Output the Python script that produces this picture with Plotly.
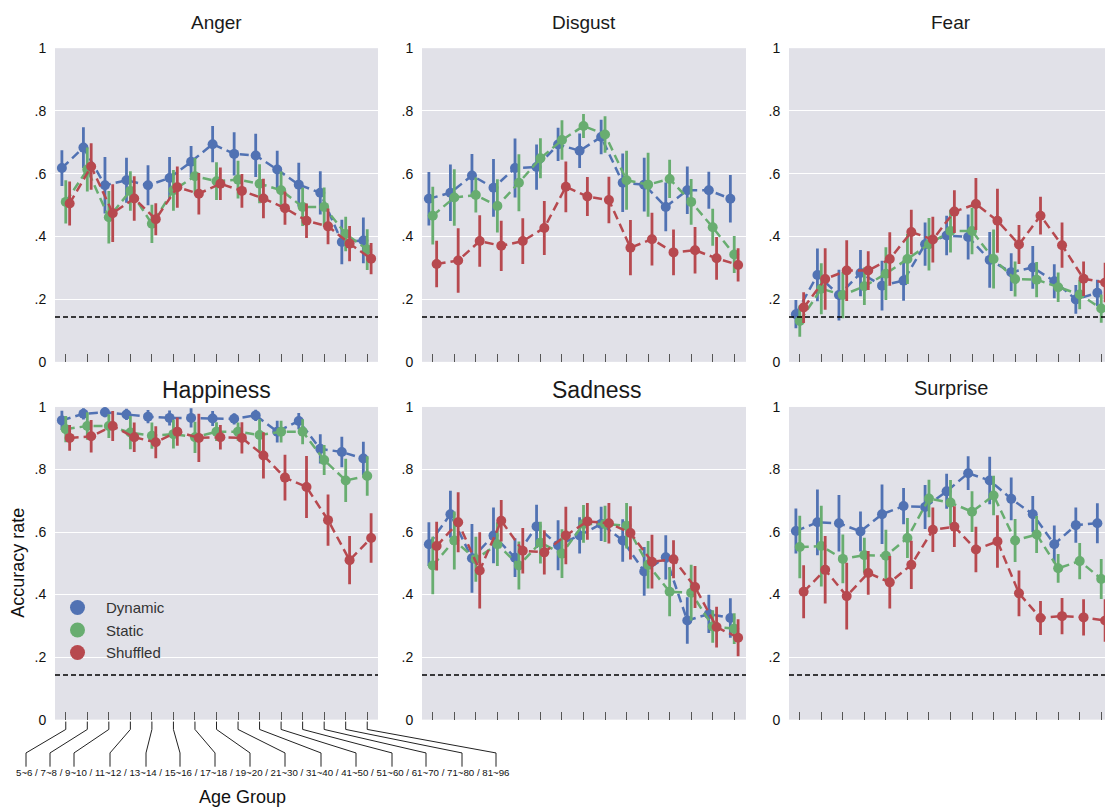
import plotly.graph_objects as go

# ---------------- data ----------------
age_groups = ["5~6", "7~8", "9~10", "11~12", "13~14", "15~16", "17~18", "19~20",
              "21~30", "31~40", "41~50", "51~60", "61~70", "71~80", "81~96"]
conditions = ["Dynamic", "Static", "Shuffled"]
emotions = ["Anger", "Disgust", "Fear", "Happiness", "Sadness", "Surprise"]
chance_level = 1 / 7

anger_dynamic = [0.618, 0.683, 0.563, 0.579, 0.563, 0.586, 0.638, 0.694, 0.663, 0.658, 0.613, 0.565, 0.539, 0.382, 0.387]
anger_dynamic_err = [0.057, 0.065, 0.09, 0.072, 0.064, 0.067, 0.05, 0.058, 0.069, 0.069, 0.06, 0.07, 0.069, 0.071, 0.073]
anger_static = [0.51, 0.613, 0.461, 0.545, 0.44, 0.547, 0.592, 0.576, 0.581, 0.568, 0.547, 0.494, 0.494, 0.408, 0.358]
anger_static_err = [0.069, 0.07, 0.084, 0.063, 0.061, 0.065, 0.058, 0.06, 0.06, 0.062, 0.06, 0.061, 0.062, 0.055, 0.065]
anger_shuffled = [0.505, 0.623, 0.474, 0.521, 0.455, 0.557, 0.536, 0.568, 0.545, 0.521, 0.49, 0.45, 0.432, 0.377, 0.329]
anger_shuffled_err = [0.07, 0.074, 0.092, 0.071, 0.051, 0.066, 0.066, 0.052, 0.054, 0.063, 0.053, 0.055, 0.057, 0.056, 0.05]

disgust_dynamic = [0.52, 0.539, 0.594, 0.555, 0.618, 0.621, 0.693, 0.673, 0.717, 0.571, 0.565, 0.494, 0.547, 0.547, 0.52]
disgust_dynamic_err = [0.085, 0.09, 0.069, 0.092, 0.094, 0.072, 0.053, 0.055, 0.055, 0.093, 0.086, 0.078, 0.076, 0.059, 0.076]
disgust_static = [0.466, 0.524, 0.532, 0.497, 0.571, 0.649, 0.707, 0.752, 0.725, 0.579, 0.565, 0.583, 0.51, 0.429, 0.342]
disgust_static_err = [0.092, 0.09, 0.056, 0.085, 0.091, 0.064, 0.063, 0.038, 0.058, 0.094, 0.102, 0.061, 0.073, 0.059, 0.059]
disgust_shuffled = [0.312, 0.323, 0.385, 0.37, 0.385, 0.427, 0.558, 0.527, 0.516, 0.364, 0.391, 0.349, 0.356, 0.33, 0.309]
disgust_shuffled_err = [0.074, 0.103, 0.082, 0.08, 0.073, 0.086, 0.081, 0.062, 0.074, 0.088, 0.084, 0.073, 0.074, 0.068, 0.053]

fear_dynamic = [0.152, 0.277, 0.213, 0.283, 0.243, 0.259, 0.375, 0.403, 0.398, 0.325, 0.286, 0.301, 0.257, 0.199, 0.22]
fear_dynamic_err = [0.045, 0.084, 0.081, 0.074, 0.079, 0.064, 0.069, 0.063, 0.072, 0.089, 0.06, 0.068, 0.054, 0.046, 0.042]
fear_static = [0.13, 0.233, 0.213, 0.241, 0.281, 0.328, 0.375, 0.417, 0.417, 0.328, 0.264, 0.262, 0.238, 0.215, 0.17]
fear_static_err = [0.05, 0.081, 0.074, 0.06, 0.084, 0.08, 0.084, 0.068, 0.074, 0.094, 0.056, 0.056, 0.047, 0.047, 0.045]
fear_shuffled = [0.173, 0.264, 0.291, 0.291, 0.328, 0.414, 0.39, 0.479, 0.503, 0.45, 0.374, 0.466, 0.372, 0.265, 0.253]
fear_shuffled_err = [0.049, 0.098, 0.097, 0.062, 0.085, 0.071, 0.073, 0.068, 0.083, 0.102, 0.062, 0.06, 0.072, 0.055, 0.063]

happiness_dynamic = [0.957, 0.978, 0.983, 0.976, 0.969, 0.965, 0.965, 0.963, 0.962, 0.973, 0.921, 0.955, 0.866, 0.856, 0.835]
happiness_dynamic_err = [0.031, 0.018, 0.016, 0.018, 0.021, 0.024, 0.031, 0.024, 0.018, 0.018, 0.035, 0.026, 0.047, 0.049, 0.054]
happiness_static = [0.929, 0.939, 0.939, 0.918, 0.908, 0.913, 0.903, 0.921, 0.921, 0.91, 0.921, 0.921, 0.83, 0.765, 0.779]
happiness_static_err = [0.042, 0.044, 0.038, 0.053, 0.042, 0.046, 0.05, 0.03, 0.029, 0.051, 0.035, 0.04, 0.048, 0.069, 0.063]
happiness_shuffled = [0.901, 0.906, 0.939, 0.903, 0.887, 0.921, 0.901, 0.903, 0.901, 0.845, 0.774, 0.744, 0.638, 0.51, 0.581]
happiness_shuffled_err = [0.041, 0.052, 0.048, 0.047, 0.051, 0.045, 0.077, 0.039, 0.05, 0.074, 0.073, 0.099, 0.082, 0.077, 0.079]

sadness_dynamic = [0.561, 0.657, 0.516, 0.589, 0.518, 0.618, 0.558, 0.589, 0.626, 0.573, 0.474, 0.519, 0.317, 0.338, 0.325]
sadness_dynamic_err = [0.07, 0.075, 0.11, 0.089, 0.062, 0.069, 0.08, 0.058, 0.055, 0.068, 0.078, 0.071, 0.074, 0.061, 0.063]
sadness_static = [0.493, 0.573, 0.513, 0.561, 0.493, 0.566, 0.531, 0.626, 0.626, 0.62, 0.495, 0.409, 0.406, 0.298, 0.291]
sadness_static_err = [0.092, 0.093, 0.072, 0.07, 0.077, 0.067, 0.078, 0.06, 0.058, 0.073, 0.076, 0.078, 0.089, 0.052, 0.049]
sadness_shuffled = [0.555, 0.631, 0.477, 0.636, 0.54, 0.535, 0.589, 0.634, 0.628, 0.597, 0.505, 0.513, 0.424, 0.296, 0.262]
sadness_shuffled_err = [0.078, 0.096, 0.122, 0.066, 0.073, 0.071, 0.092, 0.059, 0.065, 0.085, 0.086, 0.061, 0.067, 0.065, 0.059]

surprise_dynamic = [0.603, 0.631, 0.628, 0.602, 0.657, 0.683, 0.68, 0.73, 0.788, 0.765, 0.706, 0.657, 0.561, 0.622, 0.628]
surprise_dynamic_err = [0.072, 0.105, 0.09, 0.064, 0.095, 0.058, 0.07, 0.056, 0.054, 0.076, 0.068, 0.058, 0.06, 0.056, 0.064]
surprise_static = [0.552, 0.555, 0.514, 0.526, 0.524, 0.581, 0.707, 0.694, 0.665, 0.717, 0.573, 0.592, 0.484, 0.507, 0.45]
surprise_static_err = [0.1, 0.129, 0.078, 0.056, 0.083, 0.064, 0.06, 0.072, 0.065, 0.063, 0.069, 0.059, 0.046, 0.058, 0.064]
surprise_shuffled = [0.409, 0.479, 0.395, 0.469, 0.439, 0.495, 0.607, 0.617, 0.544, 0.57, 0.404, 0.325, 0.331, 0.327, 0.317]
surprise_shuffled_err = [0.085, 0.108, 0.107, 0.07, 0.084, 0.077, 0.071, 0.065, 0.073, 0.084, 0.073, 0.054, 0.058, 0.058, 0.068]

ytick_vals = [0, 0.2, 0.4, 0.6, 0.8, 1.0]
ytick_text = ["0", ".2", ".4", ".6", ".8", "1"]

series = {
    "Anger": [(anger_dynamic, anger_dynamic_err), (anger_static, anger_static_err), (anger_shuffled, anger_shuffled_err)],
    "Disgust": [(disgust_dynamic, disgust_dynamic_err), (disgust_static, disgust_static_err), (disgust_shuffled, disgust_shuffled_err)],
    "Fear": [(fear_dynamic, fear_dynamic_err), (fear_static, fear_static_err), (fear_shuffled, fear_shuffled_err)],
    "Happiness": [(happiness_dynamic, happiness_dynamic_err), (happiness_static, happiness_static_err), (happiness_shuffled, happiness_shuffled_err)],
    "Sadness": [(sadness_dynamic, sadness_dynamic_err), (sadness_static, sadness_static_err), (sadness_shuffled, sadness_shuffled_err)],
    "Surprise": [(surprise_dynamic, surprise_dynamic_err), (surprise_static, surprise_static_err), (surprise_shuffled, surprise_shuffled_err)],
}

# ---------------- style / layout ----------------
W, H = 1105, 808
colors = ["#5172B3", "#68AD70", "#B7494F"]
dodge = [-0.18, 0.0, 0.18]
bg = "#E1E1E8"
FONT = "Liberation Sans, Arial, sans-serif"

col_px = [(55, 378), (422, 746), (789, 1105)]
row_px = [(41, 361), (407, 726)]
n = len(age_groups)
unit_px = (col_px[0][1] - col_px[0][0]) / n

def px2x(p):
    return p / W

def px2y(p):
    return 1 - p / H

fig = go.Figure()

for k, emo in enumerate(emotions):
    r, c = divmod(k, 3)
    ax = "" if k == 0 else str(k + 1)
    for j, cond in enumerate(conditions):
        vals, errs = series[emo][j]
        fig.add_trace(go.Scatter(
            x=[i + dodge[j] for i in range(n)], y=vals,
            xaxis="x" + ax, yaxis="y" + ax,
            mode="lines+markers", name=cond, showlegend=False,
            line=dict(color=colors[j], width=2.5, dash="9px,5px"),
            marker=dict(color=colors[j], size=10),
            error_y=dict(type="data", array=errs, color=colors[j], thickness=2.8, width=0),
        ))
    x0, x1 = col_px[c]
    y0, y1 = row_px[r]
    xr_end = -0.5 + (x1 - x0) / unit_px
    fig.layout["xaxis" + ax] = dict(
        domain=[px2x(x0), px2x(x1)], anchor="y" + ax, range=[-0.5, xr_end],
        tickvals=list(range(n)), showticklabels=False, ticks="inside", ticklen=8,
        tickcolor="#555", tickwidth=1.2, showgrid=False, zeroline=False, showline=False,
    )
    fig.layout["yaxis" + ax] = dict(
        domain=[px2y(y1), px2y(y0)], anchor="x" + ax, range=[0, 1],
        tickvals=ytick_vals, ticktext=ytick_text, ticks="outside", ticklen=5,
        tickcolor="rgba(0,0,0,0)", showgrid=True, gridcolor="white", gridwidth=1.3,
        zeroline=False, showline=False, tickfont=dict(family=FONT, size=14, color="#111"),
    )
    fig.add_shape(type="line", xref="x" + ax + " domain", yref="y" + ax,
                  x0=0, x1=1, y0=chance_level, y1=chance_level,
                  line=dict(color="black", width=1.5, dash="5px,3px"))

# legend proxies
for j, cond in enumerate(conditions):
    fig.add_trace(go.Scatter(x=[None], y=[None], xaxis="x4", yaxis="y4", mode="markers",
                             name=cond, marker=dict(color=colors[j], size=15)))

# subplot titles
title_pos = {"Anger": (216, 15, 19), "Disgust": (584, 15, 19), "Fear": (951, 15, 19),
             "Happiness": (216, 390, 23), "Sadness": (597, 390, 23), "Surprise": (951, 388, 20)}
annotations = []
for emo, (tx, ty, fs) in title_pos.items():
    annotations.append(dict(text=emo, x=px2x(tx), y=px2y(ty), xref="paper", yref="paper",
                            showarrow=False, xanchor="center", yanchor="middle",
                            font=dict(family=FONT, size=fs, color="#1a1a1a")))
annotations.append(dict(text="Accuracy rate", x=px2x(18), y=px2y(566), xref="paper", yref="paper",
                        showarrow=False, textangle=-90, xanchor="center", yanchor="middle",
                        font=dict(family=FONT, size=18, color="#111")))
annotations.append(dict(text="Age Group", x=px2x(242), y=px2y(805), xref="paper", yref="paper",
                        showarrow=False, xanchor="center", yanchor="middle",
                        font=dict(family=FONT, size=18, color="#111")))
annotations.append(dict(text=" / ".join(age_groups), x=px2x(263), y=px2y(780), xref="paper", yref="paper",
                        showarrow=False, xanchor="center", yanchor="middle",
                        font=dict(family=FONT, size=9.7, color="#111")))

# leader lines from ticks of the bottom-left panel to the age labels
label_centers_px = [26, 50, 74, 110, 146, 180, 215, 250, 285, 321, 356, 392, 426, 462, 496]
bx0 = col_px[0][0]
bottom = row_px[1][1]
for i in range(n):
    tx = bx0 + (i + 0.5) * unit_px
    ex = label_centers_px[i]
    path = "M {a},{b} L {a},{c} L {d},{e} L {d},{f}".format(
        a=px2x(tx), b=px2y(bottom + 2), c=px2y(bottom + 10), d=px2x(ex), e=px2y(760), f=px2y(774))
    fig.add_shape(type="path", xref="paper", yref="paper", path=path,
                  line=dict(color="#222", width=1))

fig.update_layout(
    width=W, height=H, margin=dict(l=0, r=0, t=0, b=0), autosize=False,
    paper_bgcolor="white", plot_bgcolor=bg,
    annotations=annotations,
    legend=dict(x=px2x(49), y=px2y(595), xanchor="left", yanchor="top", bgcolor="rgba(0,0,0,0)",
                itemwidth=47, font=dict(family=FONT, size=15, color="#333")),
    font=dict(family=FONT),
)

fig.write_html("out.html", config={"displayModeBar": False},
               post_script="document.body.style.margin='0';document.body.style.overflow='hidden';")
